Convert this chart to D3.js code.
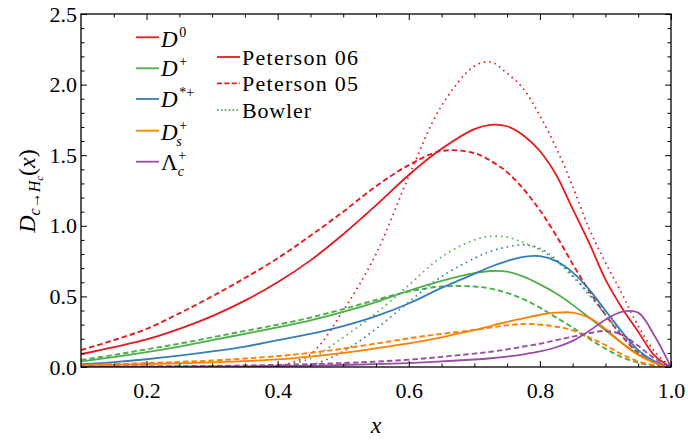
<!DOCTYPE html>
<html><head><meta charset="utf-8">
<script src="https://cdn.jsdelivr.net/npm/d3@7"></script>
<style>body{margin:0;background:#fff}svg{display:block}</style>
</head><body>
<svg id="chart" width="688" height="441"></svg>
<script>
// ---- data ----
const xs = [0.10,0.15,0.20,0.25,0.30,0.35,0.40,0.45,0.50,0.55,0.60,0.65,0.70,0.725,0.75,0.775,0.80,0.825,0.85,0.875,0.90,0.925,0.95,0.975,1.00];

const D0_pet06  = [0.09,0.14,0.195,0.27,0.36,0.47,0.60,0.755,0.94,1.145,1.36,1.545,1.685,1.715,1.705,1.64,1.53,1.36,1.12,0.88,0.62,0.42,0.25,0.08,0];
const D0_pet05  = [0.12,0.19,0.27,0.38,0.50,0.63,0.77,0.93,1.10,1.28,1.43,1.53,1.515,1.46,1.38,1.26,1.11,0.93,0.73,0.54,0.37,0.22,0.10,0.03,0];
const D0_bowler = [null,null,null,null,null,null,0.005,0.09,0.40,0.80,1.35,1.85,2.13,2.16,2.08,1.97,1.78,1.55,1.28,0.98,0.74,0.52,0.29,0.11,0];

const Dp_pet06  = [0.04,0.07,0.105,0.145,0.19,0.235,0.28,0.33,0.39,0.46,0.54,0.61,0.665,0.68,0.675,0.64,0.585,0.52,0.44,0.35,0.26,0.17,0.09,0.03,0];
const Dp_pet05  = [0.05,0.085,0.125,0.165,0.21,0.255,0.30,0.35,0.41,0.475,0.535,0.57,0.57,0.555,0.525,0.48,0.42,0.35,0.28,0.20,0.13,0.07,0.03,0.008,0];
const Dp_bowler = [null,null,null,null,null,null,0.005,0.06,0.21,0.38,0.58,0.78,0.90,0.925,0.92,0.88,0.83,0.75,0.64,0.51,0.37,0.23,0.11,0.035,0];

const Dst_pet06  = [0.02,0.035,0.055,0.08,0.11,0.145,0.19,0.235,0.29,0.36,0.45,0.56,0.66,0.71,0.75,0.78,0.785,0.75,0.67,0.55,0.40,0.25,0.12,0.04,0];
const Dst_bowler = [null,null,null,null,null,null,0.0,0.015,0.11,0.27,0.46,0.64,0.77,0.82,0.85,0.865,0.84,0.76,0.65,0.52,0.37,0.23,0.11,0.035,0];

const Ds_pet06 = [0.012,0.016,0.02,0.026,0.033,0.042,0.054,0.074,0.10,0.132,0.167,0.21,0.262,0.29,0.32,0.345,0.37,0.385,0.385,0.35,0.27,0.17,0.085,0.03,0];
const Ds_pet05 = [0.015,0.02,0.028,0.036,0.046,0.06,0.077,0.10,0.13,0.166,0.203,0.235,0.262,0.28,0.295,0.305,0.30,0.285,0.26,0.21,0.155,0.09,0.04,0.012,0];

const Lc_pet06 = [0.001,0.001,0.002,0.003,0.004,0.005,0.007,0.01,0.014,0.02,0.028,0.04,0.053,0.062,0.074,0.09,0.11,0.14,0.185,0.255,0.335,0.39,0.385,0.22,0];
const Lc_pet05 = [0.002,0.003,0.004,0.006,0.008,0.011,0.015,0.02,0.028,0.038,0.052,0.072,0.095,0.108,0.125,0.145,0.165,0.19,0.215,0.24,0.255,0.23,0.15,0.06,0];

const xTickValues = [0.2,0.4,0.6,0.8,1.0];
const xTickLabels = ["0.2","0.4","0.6","0.8","1.0"];
const xMinorTicks = [0.15,0.25,0.3,0.35,0.45,0.5,0.55,0.65,0.7,0.75,0.85,0.9,0.95];
const yTickValues = [0,0.5,1.0,1.5,2.0,2.5];
const yTickLabels = ["0.0","0.5","1.0","1.5","2.0","2.5"];
const yMinorTicks = [0.1,0.2,0.3,0.4,0.6,0.7,0.8,0.9,1.1,1.2,1.3,1.4,1.6,1.7,1.8,1.9,2.1,2.2,2.3,2.4];

// ---- styles ----
const colors = {"D0":"#e41a1c","D+":"#4daf4a","D*+":"#377eb8","Ds+":"#ff7f00","Lc+":"#984ea3"};
const dashes = {"Peterson 06":null,"Peterson 05":"5.5,3","Bowler":"1.6,3.9"};
const widths = {"Peterson 06":1.8,"Peterson 05":1.9,"Bowler":1.7};

const series = [
  {h:"D0", m:"Peterson 06", v:D0_pet06},
  {h:"D0", m:"Peterson 05", v:D0_pet05},
  {h:"D0", m:"Bowler", v:D0_bowler},
  {h:"D+", m:"Peterson 06", v:Dp_pet06},
  {h:"D+", m:"Peterson 05", v:Dp_pet05},
  {h:"D+", m:"Bowler", v:Dp_bowler},
  {h:"D*+", m:"Peterson 06", v:Dst_pet06},
  {h:"D*+", m:"Bowler", v:Dst_bowler},
  {h:"Ds+", m:"Peterson 06", v:Ds_pet06},
  {h:"Ds+", m:"Peterson 05", v:Ds_pet05},
  {h:"Lc+", m:"Peterson 06", v:Lc_pet06},
  {h:"Lc+", m:"Peterson 05", v:Lc_pet05}
];

const FONT = "'Liberation Serif','DejaVu Serif',serif";
const svg = d3.select("#chart");
const L=81,R=671,T=14,B=367;
const x = d3.scaleLinear().domain([0.1,1.0]).range([L,R]);
const y = d3.scaleLinear().domain([0,2.5]).range([B,T]);

svg.append("defs").append("clipPath").attr("id","clip")
  .append("rect").attr("x",L).attr("y",T).attr("width",R-L).attr("height",B-T);

const line = d3.line()
  .defined(d => d[1] != null)
  .x(d => x(d[0])).y(d => y(d[1]))
  .curve(d3.curveCatmullRom.alpha(0.5));
const plot = svg.append("g").attr("clip-path","url(#clip)");
series.forEach(s => {
  plot.append("path")
    .attr("d", line(xs.map((xv,i)=>[xv,s.v[i]])))
    .attr("fill","none")
    .attr("stroke",colors[s.h])
    .attr("stroke-width",widths[s.m])
    .attr("stroke-dasharray",dashes[s.m])
    .attr("stroke-linejoin","round");
});

function styleAxis(g){
  g.attr("font-family",FONT);
  g.select(".domain").remove();
  g.selectAll(".tick line").attr("stroke","#000").attr("stroke-width",1);
  g.selectAll("text").style("font-family",FONT).attr("font-size",22).attr("fill","#000");
}
svg.append("g").attr("transform",`translate(0,${B})`)
  .call(d3.axisBottom(x).tickValues(xTickValues).tickFormat((d,i)=>xTickLabels[i]).tickSizeInner(-6).tickSizeOuter(0).tickPadding(15)).call(styleAxis);
svg.append("g").attr("transform",`translate(0,${B})`)
  .call(d3.axisBottom(x).tickValues(xMinorTicks).tickFormat("").tickSizeInner(-3.5).tickSizeOuter(0)).call(styleAxis);
svg.append("g").attr("transform",`translate(0,${T})`)
  .call(d3.axisTop(x).tickValues(xTickValues).tickFormat("").tickSizeInner(-6).tickSizeOuter(0)).call(styleAxis);
svg.append("g").attr("transform",`translate(0,${T})`)
  .call(d3.axisTop(x).tickValues(xMinorTicks).tickFormat("").tickSizeInner(-3.5).tickSizeOuter(0)).call(styleAxis);
svg.append("g").attr("transform",`translate(${L},0)`)
  .call(d3.axisLeft(y).tickValues(yTickValues).tickFormat((d,i)=>yTickLabels[i]).tickSizeInner(-6).tickSizeOuter(0).tickPadding(4)).call(styleAxis);
svg.append("g").attr("transform",`translate(${L},0)`)
  .call(d3.axisLeft(y).tickValues(yMinorTicks).tickFormat("").tickSizeInner(-3.5).tickSizeOuter(0)).call(styleAxis);
svg.append("g").attr("transform",`translate(${R},0)`)
  .call(d3.axisRight(y).tickValues(yTickValues).tickFormat("").tickSizeInner(-6).tickSizeOuter(0)).call(styleAxis);
svg.append("g").attr("transform",`translate(${R},0)`)
  .call(d3.axisRight(y).tickValues(yMinorTicks).tickFormat("").tickSizeInner(-3.5).tickSizeOuter(0)).call(styleAxis);

svg.append("rect").attr("x",L).attr("y",T).attr("width",R-L).attr("height",B-T)
  .attr("fill","none").attr("stroke","#000").attr("stroke-width",1.3);

svg.append("text").attr("x",(L+R)/2).attr("y",433).attr("text-anchor","middle")
  .style("font-family",FONT).attr("font-size",24).style("font-style","italic").text("x");

const yl = svg.append("text").attr("transform","translate(35,191) rotate(-90)")
  .attr("text-anchor","middle").style("font-family",FONT).attr("font-size",24).attr("fill","#000");
yl.append("tspan").style("font-style","italic").text("D");
yl.append("tspan").attr("font-size",16).attr("dy",5).style("font-style","italic").text("c");
yl.append("tspan").attr("font-size",16).text("\u2192");
yl.append("tspan").attr("font-size",16).style("font-style","italic").text("H");
yl.append("tspan").attr("font-size",11).attr("dy",3).style("font-style","italic").text("c");
yl.append("tspan").attr("dy",-8).text("(");
yl.append("tspan").style("font-style","italic").text("x");
yl.append("tspan").text(")");

const legend = svg.append("g").style("font-family",FONT).attr("fill","#000");
const hadronLegend = [
  {h:"D0", base:"D", it:true, sup:"0", sub:null, ly:37.3, by:47},
  {h:"D+", base:"D", it:true, sup:"+", sub:null, ly:68.3, by:76},
  {h:"D*+", base:"D", it:true, sup:"*+", sub:null, ly:99, by:107.3},
  {h:"Ds+", base:"D", it:true, sup:"+", sub:"s", ly:130.7, by:139.5},
  {h:"Lc+", base:"\u039B", it:false, sup:"+", sub:"c", ly:161.7, by:170}
];
hadronLegend.forEach(e => {
  legend.append("line").attr("x1",136).attr("x2",159).attr("y1",e.ly).attr("y2",e.ly)
    .attr("stroke",colors[e.h]).attr("stroke-width",1.8);
  const t = legend.append("text").attr("x",161).attr("y",e.by).attr("font-size",23)
    .style("font-style",e.it?"italic":"normal").text(e.base);
  const w = t.node().getComputedTextLength();
  if (e.sup) legend.append("text").attr("x",161+w+(e.it?1.5:0.5)).attr("y",e.by-10).attr("font-size",14).text(e.sup);
  if (e.sub) legend.append("text").attr("x",161+w-(e.it?1.5:0)).attr("y",e.by+6).attr("font-size",14).style("font-style","italic").text(e.sub);
});

const modelLegend = [
  {m:"Peterson 06", c:"D0", ly:57, w:116},
  {m:"Peterson 05", c:"D0", ly:83.3, w:116},
  {m:"Bowler", c:"D+", ly:110, w:69}
];
modelLegend.forEach(e => {
  legend.append("line").attr("x1",217).attr("x2",240).attr("y1",e.ly).attr("y2",e.ly)
    .attr("stroke",colors[e.c]).attr("stroke-width",1.8)
    .attr("stroke-dasharray", e.m==="Peterson 05" ? "5,2.4" : (e.m==="Bowler" ? "1.5,2.4" : null));
  legend.append("text").attr("x",242).attr("y",e.ly+7.8).attr("font-size",22)
    .attr("textLength",e.w).attr("lengthAdjust","spacing").text(e.m);
});
</script>
</body></html>
